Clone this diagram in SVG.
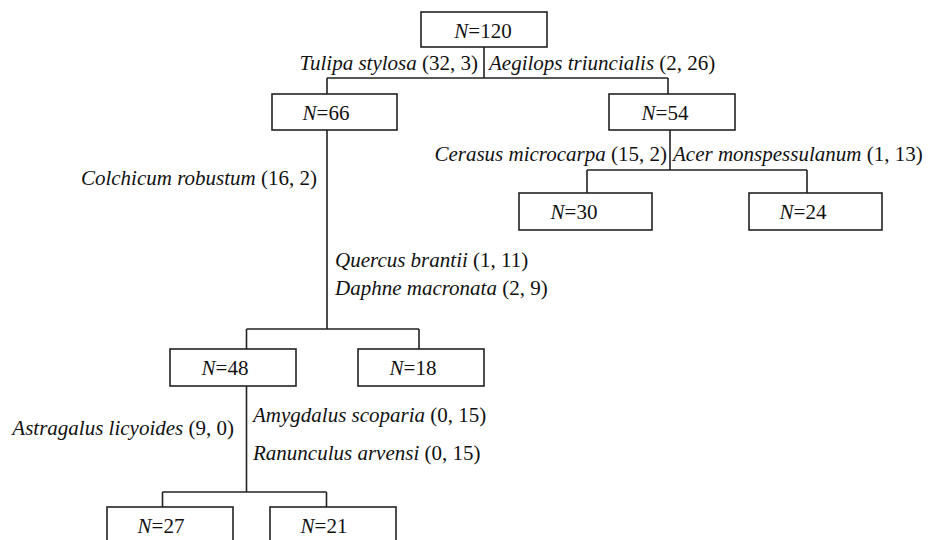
<svg xmlns="http://www.w3.org/2000/svg" width="934" height="540" viewBox="0 0 934 540" font-family="'Liberation Serif', 'Times New Roman', serif">
<style>
text{font-family:'Liberation Serif','Times New Roman',serif;font-size:21px;fill:#111}
.i{font-style:italic}
.box{fill:#fff;stroke:#222;stroke-width:1.6}
.ln{fill:none;stroke:#222;stroke-width:1.6}
.m{text-anchor:middle}
.e{text-anchor:end}
</style>
<rect width="934" height="540" fill="#fff"/>
<g id="connectors">
<path class="ln" d="M484 47V78M327 78H668M327 78V94M668 78V94"/>
<path class="ln" d="M670 130V170M587 170H807M587 170V193M807 170V193"/>
<path class="ln" d="M327 130V329M246.5 329H419M246.5 329V349M419 329V349"/>
<path class="ln" d="M246.5 386V492M162.5 492H326.5M162.5 492V507M326.5 492V507"/>
</g>
<g id="labels">
<text class="e" x="478" y="70"><tspan class="i">Tulipa stylosa</tspan> (32, 3)</text>
<text x="489" y="70"><tspan class="i">Aegilops triuncialis</tspan> (2, 26)</text>
<text class="e" x="667" y="161"><tspan class="i">Cerasus microcarpa</tspan> (15, 2)</text>
<text x="673" y="161"><tspan class="i">Acer monspessulanum</tspan> (1, 13)</text>
<text class="e" x="317" y="185"><tspan class="i">Colchicum robustum</tspan> (16, 2)</text>
<text x="335" y="267"><tspan class="i">Quercus brantii</tspan> (1, 11)</text>
<text x="335" y="295"><tspan class="i">Daphne macronata</tspan> (2, 9)</text>
<text class="e" x="234" y="435"><tspan class="i">Astragalus licyoides</tspan> (9, 0)</text>
<text x="253" y="422"><tspan class="i">Amygdalus scoparia</tspan> (0, 15)</text>
<text x="253" y="460"><tspan class="i">Ranunculus arvensi</tspan> (0, 15)</text>
</g>
<g id="n120"><rect class="box" x="421" y="12" width="126" height="35"/><text class="m" x="483" y="38"><tspan class="i">N</tspan>=120</text></g>
<g id="n66"><rect class="box" x="272" y="94" width="125" height="36"/><text class="m" x="326" y="120"><tspan class="i">N</tspan>=66</text></g>
<g id="n54"><rect class="box" x="609" y="94" width="126" height="36"/><text class="m" x="665" y="120"><tspan class="i">N</tspan>=54</text></g>
<g id="n30"><rect class="box" x="519" y="193" width="133" height="37"/><text class="m" x="574" y="219"><tspan class="i">N</tspan>=30</text></g>
<g id="n24"><rect class="box" x="749" y="193" width="133" height="37"/><text class="m" x="803" y="219"><tspan class="i">N</tspan>=24</text></g>
<g id="n48"><rect class="box" x="170" y="349" width="126" height="37"/><text class="m" x="225" y="375"><tspan class="i">N</tspan>=48</text></g>
<g id="n18"><rect class="box" x="358" y="349" width="126" height="37"/><text class="m" x="413" y="375"><tspan class="i">N</tspan>=18</text></g>
<g id="n27"><rect class="box" x="107" y="507" width="126" height="40"/><text class="m" x="161" y="533"><tspan class="i">N</tspan>=27</text></g>
<g id="n21"><rect class="box" x="270" y="507" width="126" height="40"/><text class="m" x="324" y="533"><tspan class="i">N</tspan>=21</text></g>
</svg>
